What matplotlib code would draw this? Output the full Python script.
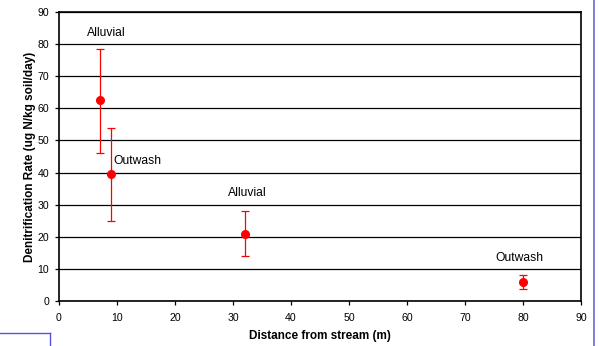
import matplotlib.pyplot as plt
from matplotlib.lines import Line2D

plt.rcParams['font.family'] = ['Liberation Sans', 'DejaVu Sans']

# data
distance = [7, 9, 32, 80]
rate = [62.5, 39.5, 21, 6]
err_low = [16.5, 14.5, 7, 2.2]
err_high = [16, 14.5, 7, 2]
site_labels = ["Alluvial", "Outwash", "Alluvial", "Outwash"]
label_pos = [(4.8, 83.5), (9.3, 43.5), (29.2, 33.5), (75.2, 13.5)]

fig = plt.figure(figsize=(5.99, 3.46), dpi=100)
ax = fig.add_axes([59 / 599, 1 - 301 / 346, (581 - 59) / 599, (301 - 12) / 346])

ax.set_axisbelow(True)
ax.yaxis.grid(True, color='black', linewidth=0.9)
ax.errorbar(distance, rate, yerr=[err_low, err_high], fmt='o', color='red',
            ecolor='red', elinewidth=0.9, capsize=3, capthick=0.9,
            markersize=5.5, zorder=3)

for txt, (lx, ly) in zip(site_labels, label_pos):
    ax.text(lx, ly, txt, fontsize=8.7, ha='left', va='center')

ax.set_xlim(0, 90)
ax.set_ylim(0, 90)
ax.set_xticks(range(0, 91, 10))
ax.set_yticks(range(0, 91, 10))
ax.tick_params(labelsize=7.6, length=3, width=0.9, direction='out')
ax.tick_params(axis='x', pad=5.5)
ax.tick_params(axis='y', pad=4)
for s in ax.spines.values():
    s.set_linewidth(1.2)

ax.set_xlabel("Distance from stream (m)", fontsize=8.5, fontweight='bold', labelpad=5)
ax.set_ylabel("Denitrification Rate (ug N/kg soil/day)", fontsize=8.5,
              fontweight='bold', labelpad=1.5)

# selection frame remnants in the screenshot
fig.add_artist(Line2D([0, 50 / 599], [1 - 333 / 346] * 2, color='#5555dd', linewidth=1,
                      transform=fig.transFigure))
fig.add_artist(Line2D([50 / 599] * 2, [1 - 333 / 346, 0], color='#5555dd', linewidth=1,
                      transform=fig.transFigure))
fig.add_artist(Line2D([594 / 599] * 2, [0, 1], color='#6666dd', linewidth=1.2,
                      transform=fig.transFigure))

fig.savefig("out.png", dpi=100)
